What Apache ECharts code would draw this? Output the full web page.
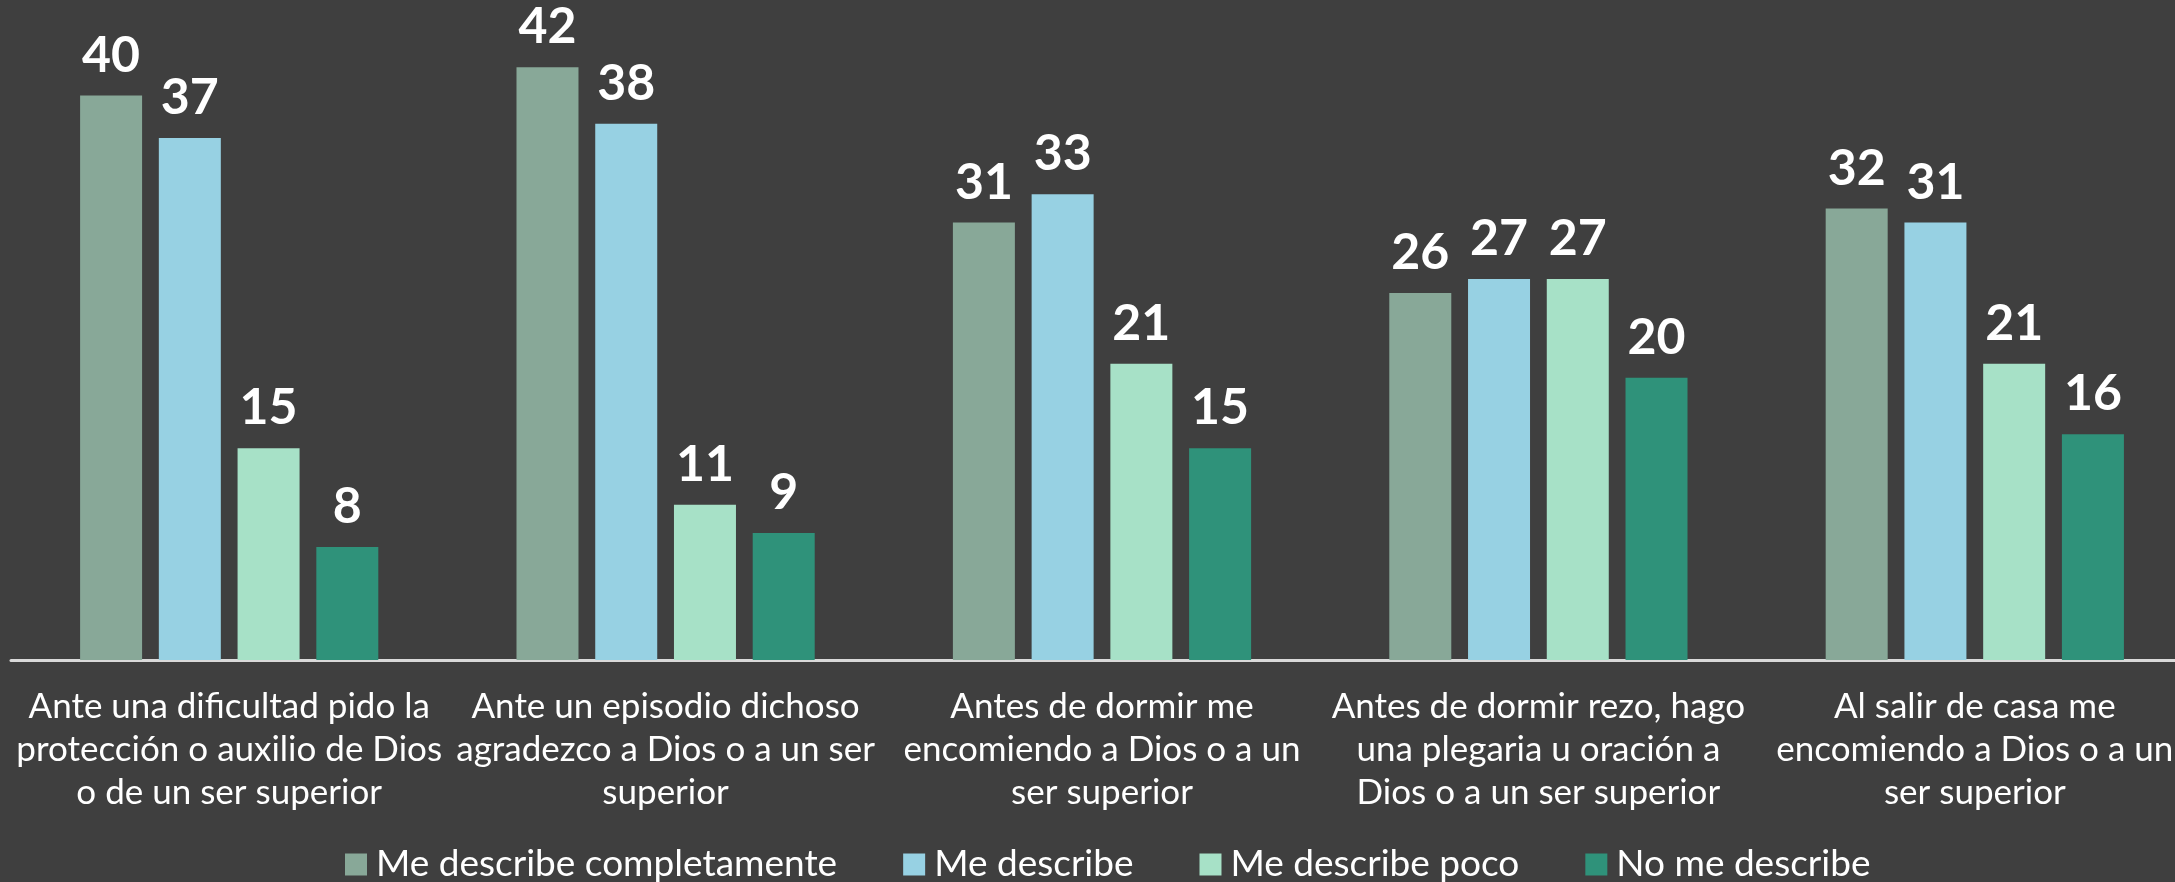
<!DOCTYPE html>
<html>
<head>
<meta charset="utf-8">
<script src="https://cdn.jsdelivr.net/npm/echarts@6/dist/echarts.min.js"></script>
<style>
  html, body { margin: 0; padding: 0; background: #3f3f3f; overflow: hidden; }
  #chart { width: 2193px; height: 882px; }
</style>
</head>
<body>
<div id="chart"></div>
<script>
// categorías (con saltos de línea como en el original)
const categories = [
  "Ante una dificultad pido la\nprotección o auxilio de Dios\no de un ser superior",
  "Ante un episodio dichoso\nagradezco a Dios o a un ser\nsuperior",
  "Antes de dormir me\nencomiendo a Dios o a un\nser superior",
  "Antes de dormir rezo, hago\nuna plegaria u oración a\nDios o a un ser superior",
  "Al salir de casa me\nencomiendo a Dios o a un\nser superior",
];

const seriesNames = [
  "Me describe completamente",
  "Me describe",
  "Me describe poco",
  "No me describe",
];

const completamente = [40, 42, 31, 26, 32];
const describe = [37, 38, 33, 27, 31];
const poco = [15, 11, 21, 27, 21];
const noDescribe = [8, 9, 15, 20, 16];

const colors = ["#88a898", "#97d1e3", "#a7e1c7", "#2f927a"];

const chart = echarts.init(document.getElementById("chart"));

const makeSeries = (name, data, color) => ({
  name: name,
  type: "bar",
  data: data,
  barWidth: 62,
  barGap: "27%",
  itemStyle: { color: color },
  label: {
    show: true,
    position: "top",
    distance: 15,
    color: "#ffffff",
    fontFamily: "Lato",
    fontWeight: "bold",
    fontSize: 50,
  },
});

const option = {
  backgroundColor: "#3f3f3f",
  animation: false,
  grid: { left: 11, right: 0, top: 25, bottom: 222 },
  legend: {
    data: seriesNames,
    left: 340,
    top: 841,
    itemWidth: 22,
    itemHeight: 22,
    itemGap: 66,
    icon: "rect",
    textStyle: { color: "#ffffff", fontFamily: "Lato", fontSize: 37, padding: [0, 0, 0, 4] },
  },
  xAxis: {
    type: "category",
    data: categories,
    axisLine: { lineStyle: { color: "#d9d9d9", width: 3 } },
    axisTick: { show: false },
    axisLabel: {
      interval: 0,
      margin: 25,
      color: "#ffffff",
      fontFamily: "Lato",
      fontSize: 35,
      lineHeight: 43,
      align: "center",
    },
  },
  yAxis: {
    type: "value",
    min: 0,
    max: 45,
    show: false,
    splitLine: { show: false },
  },
  series: [
    makeSeries(seriesNames[0], completamente, colors[0]),
    makeSeries(seriesNames[1], describe, colors[1]),
    makeSeries(seriesNames[2], poco, colors[2]),
    makeSeries(seriesNames[3], noDescribe, colors[3]),
  ],
};

chart.setOption(option);
</script>
</body>
</html>
